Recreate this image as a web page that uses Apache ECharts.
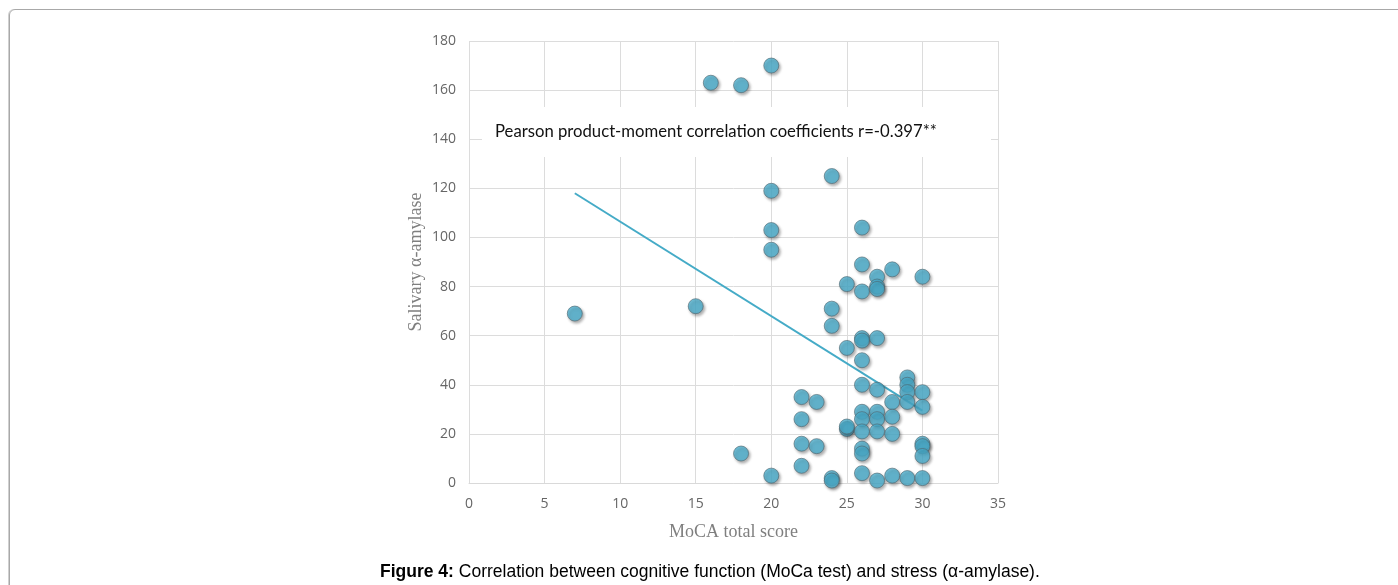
<!DOCTYPE html>
<html>
<head>
<meta charset="utf-8">
<script src="https://cdn.jsdelivr.net/npm/echarts@6/dist/echarts.min.js"></script>
<style>
  html, body { margin: 0; padding: 0; background: #fff; overflow: hidden; }
  #frame { position: absolute; left: 9px; top: 9px; width: 1500px; height: 700px;
           border: 1px solid #a8a8a8; border-radius: 6px; box-shadow: -1px 0 0 #d0d0d0; }
  #chart { position: absolute; left: 0; top: 0; width: 1398px; height: 585px; }
</style>
</head>
<body>
<div id="frame"></div>
<div id="chart"></div>
<script>
// MoCA total score (x) and salivary alpha-amylase (y)
var moca = [
  7, 15, 16, 18, 18,
  20, 20, 20, 20, 20,
  22, 22, 22, 22, 23, 23,
  24, 24, 24, 24, 24,
  25, 25, 25, 25,
  26, 26, 26, 26, 26, 26, 26, 26, 26, 26, 26, 26, 26,
  27, 27, 27, 27, 27, 27, 27, 27, 27,
  28, 28, 28, 28, 28,
  29, 29, 29, 29, 29,
  30, 30, 30, 30, 30, 30, 30
];
var amylase = [
  69, 72, 163, 162, 12,
  170, 119, 103, 95, 3,
  35, 26, 16, 7, 33, 15,
  125, 71, 64, 2, 1,
  81, 55, 22, 23,
  104, 89, 78, 59, 58, 50, 40, 29, 26, 21, 14, 12, 4,
  84, 80, 79, 59, 38, 29, 26, 21, 1,
  87, 33, 27, 20, 3,
  43, 40, 37, 33, 2,
  84, 37, 31, 16, 15, 11, 2
];
// linear trend line end points
var trendX = [7, 30];
var trendY = [118, 29.5];

var xTicks = { min: 0, max: 35, step: 5 };
var yTicks = { min: 0, max: 180, step: 20 };

var points = moca.map(function (x, i) { return [x, amylase[i]]; });
var trend = trendX.map(function (x, i) { return [x, trendY[i]]; });

var chart = echarts.init(document.getElementById('chart'), null, { renderer: 'canvas' });

var option = {
  animation: false,
  backgroundColor: 'transparent',
  grid: { left: 469, right: 400, top: 41, bottom: 102 },
  title: {
    left: 375,
    top: 558,
    text: '{b|Figure 4:} Correlation between cognitive function (MoCa test) and stress (α-amylase).',
    textStyle: {
      fontFamily: 'Liberation Sans',
      fontSize: 17.5,
      fontWeight: 'normal',
      color: '#000',
      rich: {
        b: { fontFamily: 'Liberation Sans', fontSize: 17.5, fontWeight: 'bold', color: '#000' }
      }
    }
  },
  xAxis: {
    type: 'value',
    min: xTicks.min, max: xTicks.max, interval: xTicks.step,
    name: 'MoCA total score',
    nameLocation: 'middle',
    nameGap: 40,
    nameTextStyle: { fontFamily: 'Liberation Serif', fontSize: 18, color: '#7f7f7f' },
    axisLine: { lineStyle: { color: '#d9d9d9' } },
    axisTick: { show: false },
    axisLabel: { color: '#666666', fontFamily: 'Open Sans', fontSize: 14, margin: 14 },
    splitLine: { show: true, lineStyle: { color: '#dcdcdc', width: 1 } }
  },
  yAxis: {
    type: 'value',
    min: yTicks.min, max: yTicks.max, interval: yTicks.step,
    name: 'Salivary α-amylase',
    nameLocation: 'middle',
    nameGap: 44,
    nameTextStyle: { fontFamily: 'Liberation Serif', fontSize: 18, color: '#7f7f7f' },
    axisLine: { show: false },
    axisTick: { show: false },
    axisLabel: { color: '#666666', fontFamily: 'Open Sans', fontSize: 14, margin: 13 },
    splitLine: { show: true, lineStyle: { color: '#dcdcdc', width: 1 } }
  },
  graphic: [
    {
      type: 'rect',
      z: 1,
      shape: { x: 482, y: 107, width: 509, height: 50 },
      style: { fill: '#ffffff' }
    },
    {
      type: 'text',
      z: 1,
      x: 495, y: 132,
      style: {
        text: 'Pearson product-moment correlation coefficients r=-0.397**',
        fontFamily: 'Lato',
        fontSize: 16.7,
        fill: '#111',
        textVerticalAlign: 'middle'
      }
    }
  ],
  series: [
    {
      name: 'trend',
      type: 'line',
      data: trend,
      symbol: 'none',
      z: 2,
      lineStyle: { color: '#45abc7', width: 2 }
    },
    {
      name: 'subjects',
      type: 'scatter',
      data: points,
      symbol: 'circle',
      symbolSize: 15,
      z: 3,
      itemStyle: {
        color: '#4cb0cf',
        borderColor: '#4f6670',
        borderWidth: 0.8,
        shadowColor: 'rgba(0,0,0,0.4)',
        shadowBlur: 3,
        shadowOffsetX: 1.5,
        shadowOffsetY: 2
      }
    }
  ]
};

chart.setOption(option);
</script>
</body>
</html>
